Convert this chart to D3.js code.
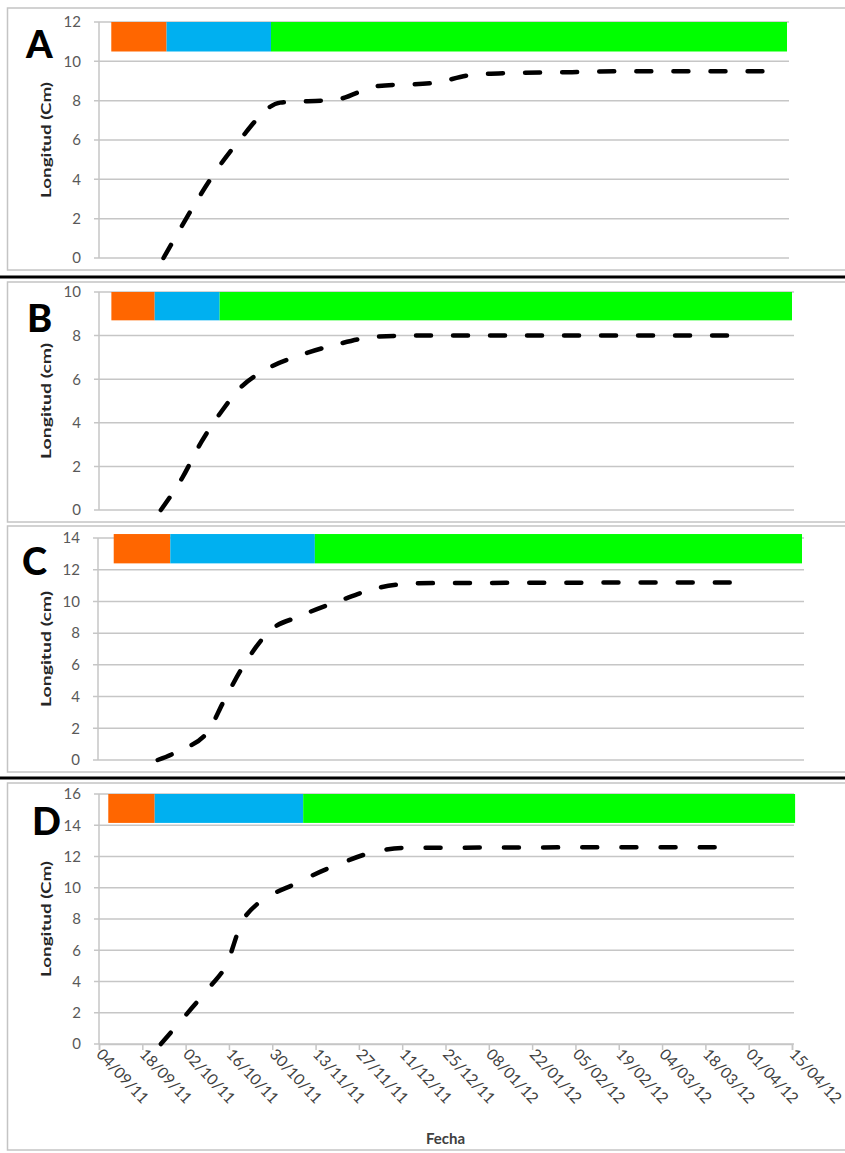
<!DOCTYPE html>
<html><head><meta charset="utf-8">
<script src="https://cdn.jsdelivr.net/npm/d3@7"></script>
<style>
html,body{margin:0;padding:0;background:#fff;}
svg{display:block;}
</style></head>
<body>
<svg id="chart" width="845" height="1153"></svg>
<script>
// ---------------- DATA ----------------
const xTickLabels = ["04/09/11","18/09/11","02/10/11","16/10/11","30/10/11","13/11/11","27/11/11","11/12/11","25/12/11","08/01/12","22/01/12","05/02/12","19/02/12","04/03/12","18/03/12","01/04/12","15/04/12"];
const panelLetters = ["A","B","C","D"];
const yTitles = ["Longitud (Cm)","Longitud (cm)","Longitud (cm)","Longitud (Cm)"];
const yMaxValues = [12,10,14,16];
const xTitle = "Fecha";

const datesA  = ["25/09/11","19/10/11","02/11/11","20/11/11","04/12/11","22/12/11","03/01/12","15/01/12","05/02/12","20/02/12","07/04/12"];
const valuesA = [0,5.85,7.9,8.05,8.75,8.9,9.3,9.4,9.45,9.5,9.5];
const datesB  = ["24/09/11","01/10/11","07/10/11","14/10/11","20/10/11","28/10/11","08/11/11","20/11/11","03/12/11","16/12/11","25/03/12"];
const valuesB = [0,1.5,3.1,4.6,5.65,6.45,7.1,7.6,7.95,8.0,8.0];
const datesC  = ["23/09/11","30/09/11","09/10/11","14/10/11","20/10/11","29/10/11","07/11/11","20/11/11","02/12/11","15/12/11","23/03/12"];
const valuesC = [0,0.6,1.8,3.7,5.85,8.2,9.05,10.05,10.85,11.15,11.2];
const datesD  = ["24/09/11","04/10/11","10/10/11","15/10/11","21/10/11","08/11/11","21/11/11","02/12/11","12/12/11","21/03/12"];
const valuesD = [0,2.3,3.7,5.0,8.1,10.4,11.55,12.3,12.55,12.6];

const phaseColors = ["#FF6600","#00B0F0","#00FF00"];
const phaseBoundsA = ["08/09/11","26/09/11","30/10/11","15/04/12"];
const phaseBoundsB = ["08/09/11","22/09/11","13/10/11","15/04/12"];
const phaseBoundsC = ["09/09/11","27/09/11","12/11/11","15/04/12"];
const phaseBoundsD = ["07/09/11","22/09/11","09/11/11","16/04/12"];
const phaseBandA = [10.5,12];
const phaseBandB = [8.7,10];
const phaseBandC = [12.4,14.25];
const phaseBandD = [14.15,16];

// ---------------- LAYOUT ----------------
const parse = d3.utcParse("%d/%m/%y");
const fmt = d3.utcFormat("%d/%m/%y");
const xDomain = [parse(xTickLabels[0]), parse(xTickLabels[xTickLabels.length-1])];

const panels = [
  {letter:panelLetters[0], title:yTitles[0], ymax:yMaxValues[0], dates:datesA, values:valuesA, bounds:phaseBoundsA, band:phaseBandA,
   frame:[8,270], x0:99, x1:787, y0:258, y1:22, letterPos:[26,58], showX:false},
  {letter:panelLetters[1], title:yTitles[1], ymax:yMaxValues[1], dates:datesB, values:valuesB, bounds:phaseBoundsB, band:phaseBandB,
   frame:[282,522], x0:99, x1:792, y0:510, y1:292, letterPos:[27,332], showX:false},
  {letter:panelLetters[2], title:yTitles[2], ymax:yMaxValues[2], dates:datesC, values:valuesC, bounds:phaseBoundsC, band:phaseBandC,
   frame:[526,772], x0:98, x1:802, y0:760, y1:538, letterPos:[22,575], showX:false},
  {letter:panelLetters[3], title:yTitles[3], ymax:yMaxValues[3], dates:datesD, values:valuesD, bounds:phaseBoundsD, band:phaseBandD,
   frame:[783,1150], x0:99, x1:792, y0:1044, y1:794, letterPos:[32,835], showX:true}
];

const svg = d3.select("#chart");
const gridColor = "#c6c6c6";
const tickColor = "#595959";
const font = "Lato, 'Open Sans', sans-serif";

// separators
[277, 778].forEach(y => {
  svg.append("line").attr("x1",0).attr("x2",845).attr("y1",y).attr("y2",y)
    .attr("stroke","#000").attr("stroke-width",3);
});

panels.forEach(p => {
  const g = svg.append("g");
  // frame
  g.append("rect").attr("x",7.5).attr("y",p.frame[0]).attr("width",850).attr("height",p.frame[1]-p.frame[0])
    .attr("fill","none").attr("stroke","#c4c4c4").attr("stroke-width",1.5);

  const x = d3.scaleUtc().domain(xDomain).range([p.x0, p.x1]);
  const y = d3.scaleLinear().domain([0, p.ymax]).range([p.y0, p.y1]);

  // gridlines
  const yTicks = d3.range(0, p.ymax + 0.001, 2);
  g.append("g").selectAll("line").data(yTicks).join("line")
    .attr("x1", p.x0 - 5).attr("x2", p.x1 + 2)
    .attr("y1", d => y(d)).attr("y2", d => y(d))
    .attr("stroke", gridColor).attr("stroke-width", 1.5);
  // y axis line
  g.append("line").attr("x1",p.x0).attr("x2",p.x0).attr("y1",p.y0).attr("y2",p.y1)
    .attr("stroke",gridColor).attr("stroke-width",1.5);

  // y tick labels via d3 axis
  const yAxis = d3.axisLeft(y).tickValues(yTicks).tickSize(0).tickPadding(18).tickFormat(d3.format("d"));
  const ya = g.append("g").attr("transform",`translate(${p.x0},0)`).call(yAxis);
  ya.select(".domain").remove();
  ya.selectAll("text").attr("fill",tickColor).style("font-family",font).style("font-size","15px");

  // y title
  g.append("text")
    .attr("transform",`translate(51,${(p.y0+p.y1)/2}) rotate(-90)`)
    .attr("text-anchor","middle")
    .attr("textLength",116).attr("lengthAdjust","spacingAndGlyphs")
    .style("font-family",font).style("font-weight","bold").style("font-size","14px")
    .attr("fill","#262626").text(p.title);

  // phase bars
  const phases = phaseColors.map((c,i) => ({c, s:parse(p.bounds[i]), e:parse(p.bounds[i+1])}));
  g.append("g").selectAll("rect").data(phases).join("rect")
    .attr("x", d => x(d.s)).attr("width", d => x(d.e) - x(d.s))
    .attr("y", y(p.band[1])).attr("height", y(p.band[0]) - y(p.band[1]))
    .attr("fill", d => d.c);

  // x axis for last panel
  if (p.showX) {
    const xAxis = d3.axisBottom(x).tickValues(xTickLabels.map(parse)).tickSize(6).tickFormat(fmt);
    const xa = g.append("g").attr("transform",`translate(0,${p.y0})`).call(xAxis);
    xa.select(".domain").attr("stroke",gridColor).attr("stroke-width",1.5);
    xa.selectAll(".tick line").attr("stroke",gridColor).attr("stroke-width",1.5);
    xa.selectAll("text")
      .attr("text-anchor","start")
      .attr("x",0).attr("y",0).attr("dy","0")
      .attr("transform","translate(-4,11) rotate(47)")
      .attr("fill","#404040").style("font-family",font).style("font-size","15.5px");
    g.append("text").attr("x",(p.x0+p.x1)/2).attr("y",1144).attr("text-anchor","middle")
      .style("font-family",font).style("font-weight","bold").style("font-size","15px")
      .attr("fill","#404040").text(xTitle);
  }

  // data line (dash pattern fitted so both ends are dashes)
  const pts = p.dates.map((d,i) => ({d:parse(d), v:p.values[i]}));
  const line = d3.line().x(d => x(d.d)).y(d => y(d.v)).curve(d3.curveMonotoneX);
  const path = g.append("path").datum(pts).attr("d", line)
    .attr("fill","none").attr("stroke","#000").attr("stroke-width",4.5)
    .attr("stroke-linecap","round");
  const L = path.node().getTotalLength();
  const dash = 15;
  const n = Math.max(1, Math.round((L - dash) / 38));
  const period = (L - dash) / n;
  path.attr("stroke-dasharray", `${dash},${period - dash}`);

  // panel letter
  g.append("text").attr("x",p.letterPos[0]).attr("y",p.letterPos[1])
    .style("font-family",font).style("font-weight","900").style("font-size","38px")
    .attr("fill","#000").text(p.letter);
});
</script>
</body></html>
